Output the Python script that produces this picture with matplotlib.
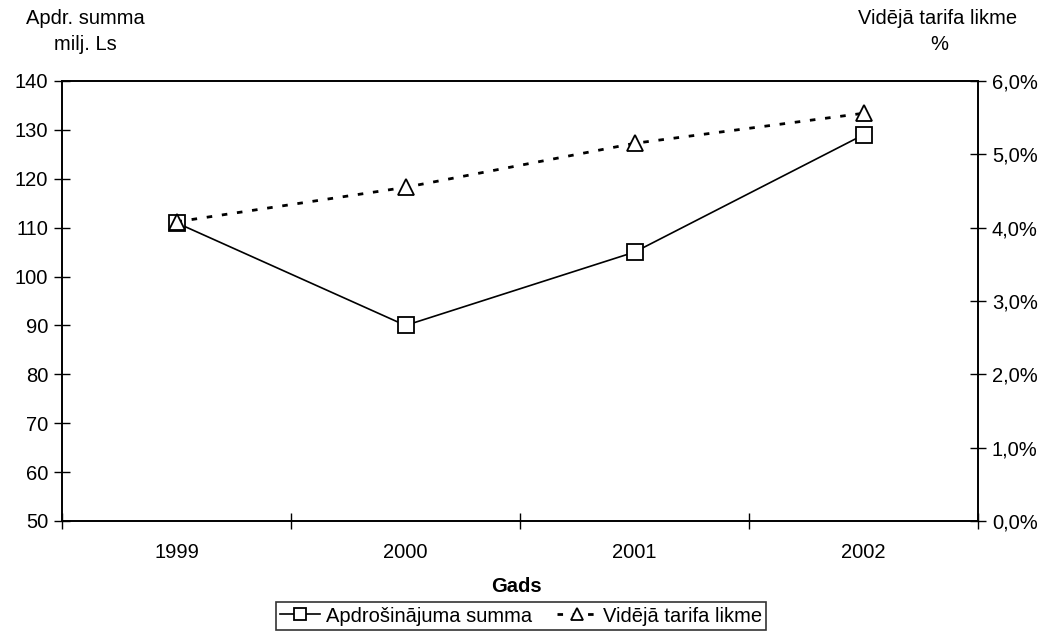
import matplotlib.pyplot as plt
import numpy as np
from matplotlib.ticker import FuncFormatter

plt.rcParams['font.family'] = ['Liberation Sans', 'DejaVu Sans']

years = ['1999', '2000', '2001', '2002']
summa = [111, 90, 105, 129]          # milj. Ls
tarifa = [4.08, 4.55, 5.15, 5.56]    # %

fs = 14.5

fig = plt.figure(figsize=(10.52, 6.34), dpi=100)
ax = fig.add_axes([62 / 1052, 1 - 521 / 634, 916 / 1052, 440 / 634])
ax2 = ax.twinx()

x = np.arange(len(years))
l1, = ax.plot(x, summa, color='black', lw=1.2, marker='s', ms=11,
              mfc='white', mec='black', mew=1.3, zorder=3,
              label='Apdrošinājuma summa')
l2, = ax2.plot(x, tarifa, color='black', lw=2, ls=(0, (2, 3.5)), marker='^',
               ms=11, mfc='white', mec='black', mew=1.3, zorder=3,
               label='Vidējā tarifa likme')

ax.set_xlim(-0.5, len(years) - 0.5)
ax.set_ylim(50, 140)
ax.set_yticks(np.arange(50, 141, 10))
ax2.set_ylim(0, 6)
ax2.set_yticks(np.arange(0, 6.1, 1))
ax2.yaxis.set_major_formatter(FuncFormatter(lambda v, p: f'{v:.1f}%'.replace('.', ',')))

ax.set_xticks(x)
ax.set_xticklabels(years)
ax.set_xticks(np.arange(-0.5, len(years), 1), minor=True)
ax.tick_params(axis='x', which='major', length=0, pad=16, labelsize=fs)
ax.tick_params(axis='x', which='minor', direction='inout', length=12, width=1)
ax.tick_params(axis='y', direction='inout', length=12, width=1, labelsize=fs, pad=4)
ax2.tick_params(axis='y', direction='inout', length=12, width=1, labelsize=fs, pad=4)

for a in (ax, ax2):
    for s in a.spines.values():
        s.set_linewidth(1.2)

fig.text(516 / 1052, 1 - 587 / 634, 'Gads', ha='center', va='center',
         fontsize=fs, fontweight='bold')

fig.text(85 / 1052, 1 - 18 / 634, 'Apdr. summa', ha='center', va='center', fontsize=fs)
fig.text(85 / 1052, 1 - 45 / 634, 'milj. Ls', ha='center', va='center', fontsize=fs)
fig.text(938 / 1052, 1 - 18 / 634, 'Vidējā tarifa likme', ha='center', va='center', fontsize=fs)
fig.text(939 / 1052, 1 - 45 / 634, '%', ha='center', va='center', fontsize=fs)

leg = fig.legend([l1, l2], [l1.get_label(), l2.get_label()], loc='center',
                 bbox_to_anchor=(521 / 1052, 1 - 616 / 634), ncol=2, fontsize=fs,
                 frameon=True, fancybox=False, edgecolor='black', handlelength=2,
                 handletextpad=0.3, columnspacing=1.2, borderpad=0.2,
                 borderaxespad=0, markerscale=0.75)
leg.get_frame().set_linewidth(1.2)

fig.savefig('out.png', dpi=100)
